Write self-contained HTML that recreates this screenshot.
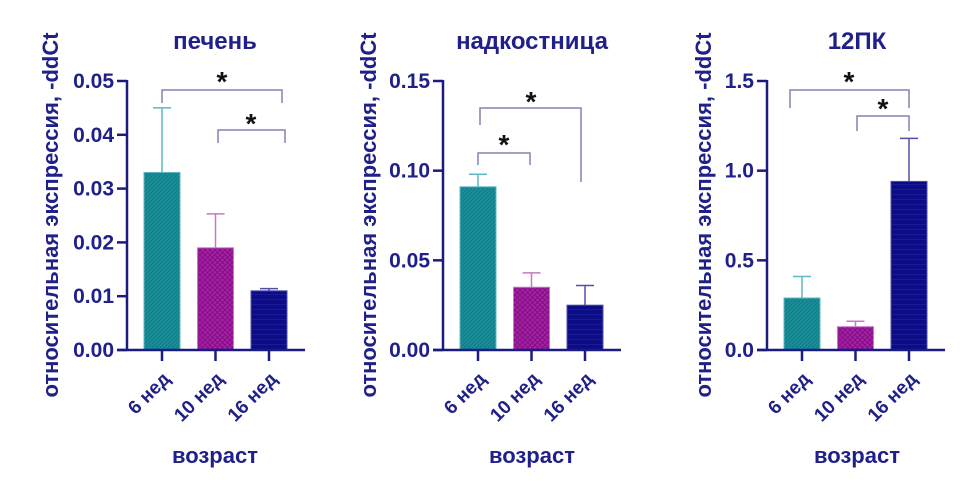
<!DOCTYPE html>
<html><head><meta charset="utf-8"><style>
html,body{margin:0;padding:0;background:#fff;width:965px;height:484px;overflow:hidden}
svg{display:block}
text{font-family:"Liberation Sans",sans-serif;font-weight:bold;fill:#20208a}
</style></head><body>
<svg id="chart" width="965" height="484" viewBox="0 0 965 484">
<defs>
<pattern id="pTeal" width="4" height="4" patternUnits="userSpaceOnUse"><rect width="4" height="4" fill="#1a8c98"/><path d="M0 4L4 0" stroke="#14737d" stroke-width="0.7"/></pattern>
<pattern id="pMag" width="5" height="5" patternUnits="userSpaceOnUse"><rect width="5" height="5" fill="#a81ea4"/><path d="M0 0L5 5M5 0L0 5" stroke="#7a1080" stroke-width="0.8"/></pattern>
<pattern id="pNavy" width="5" height="5" patternUnits="userSpaceOnUse"><rect width="5" height="5" fill="#0c0c86"/><path d="M0 4.5H5" stroke="#1e1e9a" stroke-width="0.8"/></pattern>
</defs>
</svg>
<script>
const categories = ["6 нед","10 нед","16 нед"];
const titles = ["печень","надкостница","12ПК"];
const means1 = [0.033,0.019,0.011];
const errs1 = [0.012,0.0063,0.0004];
const means2 = [0.091,0.035,0.025];
const errs2 = [0.007,0.008,0.011];
const means3 = [0.29,0.13,0.94];
const errs3 = [0.12,0.03,0.24];
const ticks1 = ["0.00","0.01","0.02","0.03","0.04","0.05"];
const ticks2 = ["0.00","0.05","0.10","0.15"];
const ticks3 = ["0.0","0.5","1.0","1.5"];
const ymax = [0.05,0.15,1.5];

const NS="http://www.w3.org/2000/svg";
const svg=document.getElementById('chart');
function mk(t,a,p){const e=document.createElementNS(NS,t);for(const k in a)e.setAttribute(k,a[k]);(p||svg).appendChild(e);return e;}
const fills=["url(#pTeal)","url(#pMag)","url(#pNavy)"];
const errCols=["#5fb8c4","#c878c8","#5050a8"];
const panels=[
 {ax:127,titleX:215,ytX:52,means:means1,errs:errs1,ticks:ticks1,
  br:[{x1:162,x2:282,y:90,d1:103,d2:103,sx:222,sy:80},{x1:218,x2:285,y:130,d1:143,d2:143,sx:251,sy:122}]},
 {ax:443,titleX:532,ytX:370,means:means2,errs:errs2,ticks:ticks2,
  br:[{x1:480,x2:581,y:108,d1:125,d2:182,sx:531,sy:100},{x1:478,x2:530,y:153,d1:165,d2:165,sx:504,sy:143}]},
 {ax:767,titleX:857,ytX:705,means:means3,errs:errs3,ticks:ticks3,
  br:[{x1:790,x2:909,y:90,d1:108,d2:108,sx:849,sy:80},{x1:857,x2:909,y:116,d1:131,d2:131,sx:883,sy:107}]}
];
const y0=350, yTop=81;
panels.forEach((p,pi)=>{
  const g=mk('g',{});
  
  
  const ys=v=>y0-(v/ymax[pi])*(y0-yTop);
  const xs=i=>p.ax+35+i*53.5;
  const t=mk('text',{x:p.titleX,y:49,'font-size':24,'text-anchor':'middle'},g);t.textContent=titles[pi];
  
  
  const yt=mk('text',{x:0,y:0,'font-size':22,'text-anchor':'middle',transform:`translate(${p.ytX+6},215) rotate(-90)`},g);
  yt.textContent="относительная экспрессия, -ddCt";
  
  
  const xt=mk('text',{x:p.titleX,y:463,'font-size':22,'text-anchor':'middle'},g);xt.textContent="возраст";
  
  
  p.means.forEach((m,i)=>{
    const cx=xs(i), top=ys(m+p.errs[i]);
    const eb=mk('path',{d:`M${cx} ${ys(m)}V${top}M${cx-9} ${top}H${cx+9}`,stroke:errCols[i],'stroke-width':1.5,fill:'none'},g);
    
    
    const r=mk('rect',{x:cx-18,y:ys(m),width:36,height:y0-ys(m),fill:fills[i],stroke:errCols[i],'stroke-width':1},g);
    
    
    const tk=mk('line',{x1:cx,y1:y0,x2:cx,y2:y0+11,stroke:'#1a1a80','stroke-width':2.5},g);
    
    
    const lb=mk('text',{x:0,y:0,'font-size':19,'text-anchor':'end',transform:`translate(${cx+9},${y0+30}) rotate(-45)`},g);
    lb.textContent=categories[i];
    
    
  });
  const ya=mk('line',{x1:p.ax,y1:yTop-1,x2:p.ax,y2:y0+1,stroke:'#1a1a80','stroke-width':2.5},g);
  
  
  const xa=mk('line',{x1:p.ax-10,y1:y0,x2:p.ax+178,y2:y0,stroke:'#1a1a80','stroke-width':2.5},g);
  
  
  p.ticks.forEach(tv=>{
    const y=ys(parseFloat(tv));
    const l=mk('line',{x1:p.ax-10,y1:y,x2:p.ax,y2:y,stroke:'#1a1a80','stroke-width':2.5},g);
    
    
    const tx=mk('text',{x:p.ax-13,y:y+7,'font-size':21,'text-anchor':'end'},g);tx.textContent=tv;
    
    
  });
  p.br.forEach(b=>{
    const bp=mk('path',{d:`M${b.x1} ${b.d1}V${b.y}H${b.x2}V${b.d2}`,stroke:'#8484b4','stroke-width':1.5,fill:'none'},g);
    
    
    const s=mk('text',{x:b.sx,y:b.sy+11,'font-size':28,'text-anchor':'middle',style:'fill:#111'},g);s.textContent="*";
    
    
  });
});
</script>
</body></html>
